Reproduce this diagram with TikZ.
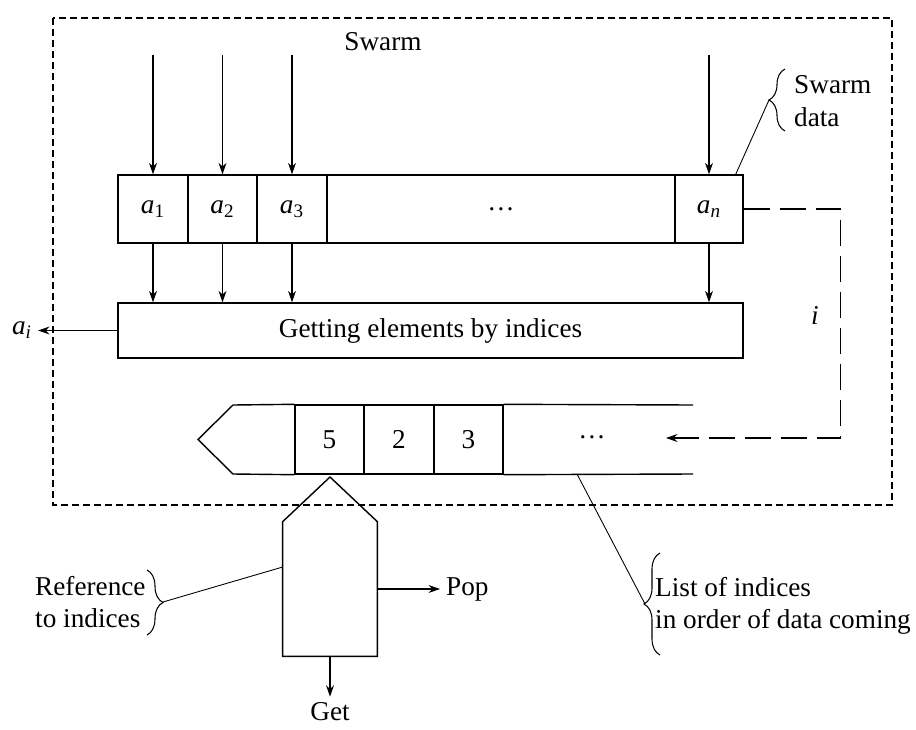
\documentclass[tikz,border=0pt]{standalone}
\usepackage{fontspec}
\setmainfont{Liberation Serif}
\usetikzlibrary{arrows.meta,decorations.pathreplacing}

\begin{document}
\begin{tikzpicture}[x=0.02cm, y=-0.02cm,
    font=\fontsize{15.5}{18.6}\selectfont,
    cell/.style={draw, rectangle, line width=0.8pt, inner sep=0pt, minimum height=1.36cm},
    arr/.style={-{Stealth[length=6.5pt,width=4.5pt]}, line width=0.6pt},
    lead/.style={line width=0.5pt},
    curly/.style={decorate, decoration={brace, amplitude=0.32cm}, line width=0.6pt}]
    \useasboundingbox (0,0) rectangle (916,730);

    % swarm frame
    \draw[dash pattern=on 0.14cm off 0.08cm, line width=0.6pt] (53,18) rectangle (892,505);
    \node (swarmlbl) at (383,42) {Swarm};

    % data cells
    \node[cell, minimum width=1.4cm] (a1) at (153,209) {\textit{a}\textsubscript{1}};
    \node[cell, minimum width=1.38cm] (a2) at (222.5,209) {\textit{a}\textsubscript{2}};
    \node[cell, minimum width=1.4cm] (a3) at (292,209) {\textit{a}\textsubscript{3}};
    \node[cell, minimum width=6.96cm] (mid) at (501,209) {\ldots};
    \node[cell, minimum width=1.36cm] (an) at (709,209) {\textit{a\textsubscript{n}}};

    \coordinate (in1) at (153,55);
    \coordinate (in2) at (222.5,55);
    \coordinate (in3) at (292,55);
    \coordinate (inn) at (709,55);
    \draw[arr] (in1) -- (a1);
    \draw[arr] (in2) -- (a2);
    \draw[arr] (in3) -- (a3);
    \draw[arr] (inn) -- (an);

    \node[cell, minimum width=12.5cm, minimum height=1.1cm] (getel) at (430.5,330.5) {Getting elements by indices};
    \draw[arr] (a1) -- (a1 |- getel.north);
    \draw[arr] (a2) -- (a2 |- getel.north);
    \draw[arr] (a3) -- (a3 |- getel.north);
    \draw[arr] (an) -- (an |- getel.north);

    \node (ai) at (22,330.5) {\textit{a\textsubscript{i}}};
    \draw[arr] (getel) -- (ai);

    % index queue
    \node[cell, minimum width=1.38cm, minimum height=1.38cm] (q5) at (329.5,439.5) {5};
    \node[cell, minimum width=1.4cm, minimum height=1.38cm] (q2) at (399,439.5) {2};
    \node[cell, minimum width=1.38cm, minimum height=1.38cm] (q3) at (468.5,439.5) {3};
    \node (qdots) at (592,437) {\ldots};
    \draw[line width=0.8pt] (q5.north west) -- (233,405) -- (198,439.5) -- (233,474) -- (q5.south west);
    \draw[line width=0.8pt] (q3.north east) -- (693,405) (q3.south east) -- (693,474);

    \coordinate (qin) at (666,438);
    \draw[arr, dash pattern=on 0.52cm off 0.2cm] (an.east) -- ++(97,0) |- (qin);
    \node (ilbl) at (815,315) {\textit{i}};

    % reference to indices
    \node[minimum width=1.88cm, minimum height=2.68cm, inner sep=0pt] (ref) at (330,589) {};
    \draw[line width=0.8pt] (ref.south west) -- (ref.north west) -- (330,477) -- (ref.north east) -- (ref.south east) -- cycle;
    \node[anchor=west] (pop) at (440,589) {Pop};
    \draw[arr] (ref.east) -- (pop);
    \node (getlbl) at (330,712) {Get};
    \draw[arr] (ref.south) -- (getlbl);

    % callouts
    \node[align=left, anchor=west] (sdata) at (788,101) {Swarm\\data};
    \coordinate (sdtip) at (769,100);
    \draw[curly] (785,131) -- (785,69);
    \draw[lead] ([xshift=-0.16cm]an.north east) -- (sdtip);

    \node[align=left, anchor=west] (reftext) at (29,602) {Reference\\to indices};
    \coordinate (reftip) at (163,602);
    \draw[curly] (147,570) -- (147,635);
    \draw[lead] ([yshift=0.44cm]ref.west) -- (reftip);

    \node[align=left, anchor=west] (lsttext) at (649,606) {List of indices\\in order of data coming};
    \coordinate (lsttip) at (645,604);
    \coordinate (qbot) at (577,474);
    \draw[curly] (660,655) -- (660,553);
    \draw[lead] (qbot) -- (lsttip);
\end{tikzpicture}
\end{document}
